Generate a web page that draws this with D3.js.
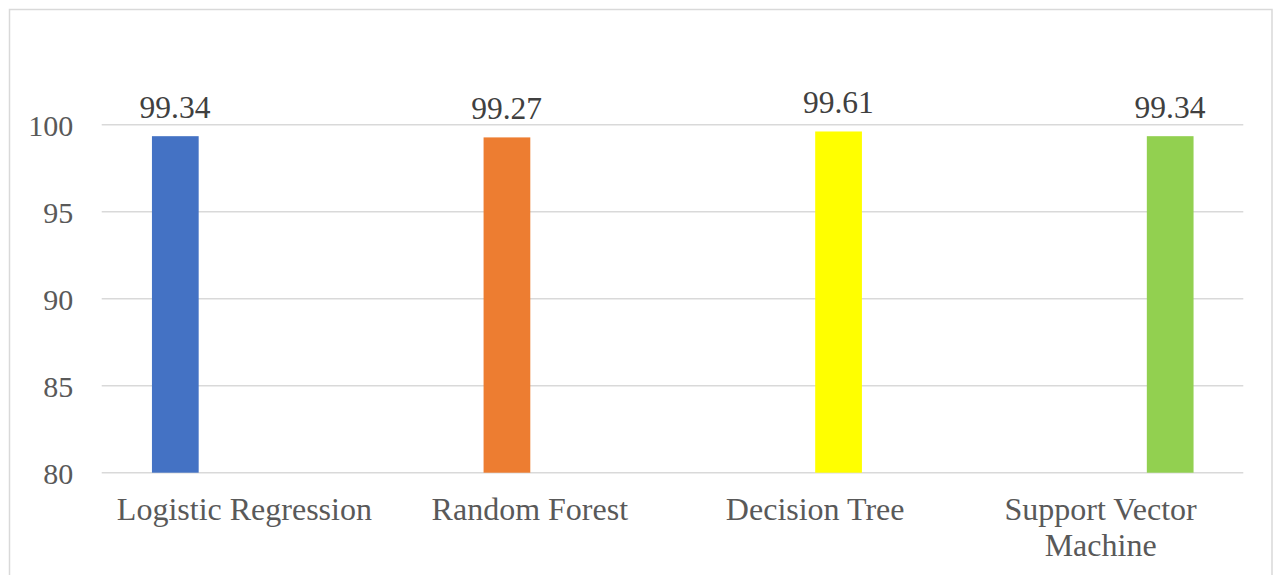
<!DOCTYPE html>
<html>
<head>
<meta charset="utf-8">
<script src="https://cdn.jsdelivr.net/npm/d3@7"></script>
<style>
  html, body { margin: 0; padding: 0; background: #fff; }
  svg { display: block; }
</style>
</head>
<body>
<svg id="chart" width="1274" height="575" font-family="Liberation Serif"></svg>
<script>
// Model accuracy (%)
const categories = ["Logistic Regression", "Random Forest", "Decision Tree", "Support Vector Machine"];
const accuracy = [99.34, 99.27, 99.61, 99.34];
const barColors = ["#4472C4", "#ED7D31", "#FFFF00", "#92D050"];
const yTicks = [80, 85, 90, 95, 100];

const SERIF = "Liberation Serif";
const svg = d3.select("#chart");

// outer frame
svg.append("rect")
  .attr("x", 9.5).attr("y", 9.5)
  .attr("width", 1262.5).attr("height", 580)
  .attr("fill", "#fff")
  .attr("stroke", "#d9d9d9").attr("stroke-width", 1.5);

const plotLeft = 101.7, plotRight = 1243.3, plotTop = 124.7, plotBottom = 472.7;

const y = d3.scaleLinear().domain([80, 100]).range([plotBottom, plotTop]);
const x0 = d3.scaleBand().domain(categories).range([plotLeft, plotRight]).paddingInner(0).paddingOuter(0);
// each model is its own series, so it takes its own slot inside every category
const x1 = d3.scaleBand().domain(d3.range(categories.length))
  .range([0, x0.bandwidth()]).paddingInner(0).paddingOuter(1.087);

// gridlines
svg.append("g").selectAll("line").data(yTicks).join("line")
  .attr("x1", plotLeft).attr("x2", plotRight)
  .attr("y1", d => y(d)).attr("y2", d => y(d))
  .attr("stroke", "#d9d9d9").attr("stroke-width", 1.5);

// y axis labels
const yAxis = d3.axisLeft(y).tickValues(yTicks).tickSize(0).tickPadding(28.5);
const yg = svg.append("g").attr("transform", `translate(${plotLeft},0)`).call(yAxis);
yg.select(".domain").remove();
yg.attr("font-family", SERIF).attr("font-size", 30);
yg.selectAll("text")
  .attr("font-family", SERIF)
  .attr("font-size", 30).attr("fill", "#595959")
  .attr("dy", "0.35em");

// bars
const bars = categories.map((c, i) => ({ c, i, v: accuracy[i], color: barColors[i] }));
svg.append("g").selectAll("rect").data(bars).join("rect")
  .attr("x", d => x0(d.c) + x1(d.i))
  .attr("width", x1.bandwidth() + 0.5)
  .attr("y", d => y(d.v))
  .attr("height", d => y(80) - y(d.v))
  .attr("fill", d => d.color);

// value labels
svg.append("g").attr("font-family", SERIF).selectAll("text").data(bars).join("text")
  .attr("x", d => x0(d.c) + x1(d.i) + x1.bandwidth() / 2)
  .attr("y", d => y(d.v) - 18)
  .attr("text-anchor", "middle")
  .attr("font-family", SERIF)
  .attr("font-size", 31.5).attr("fill", "#404040")
  .text(d => d.v.toFixed(2));

// category labels, wrapped to the band width
const xAxis = d3.axisBottom(x0).tickSize(0).tickPadding(0);
const xg = svg.append("g").attr("transform", `translate(0,${plotBottom})`).call(xAxis);
xg.select(".domain").remove();
xg.attr("font-family", SERIF).attr("font-size", 32);
xg.selectAll("text")
  .attr("font-family", SERIF)
  .attr("font-size", 32).attr("fill", "#595959")
  .attr("y", 47).attr("dy", 0)
  .each(function () {
    const t = d3.select(this);
    const words = t.text().split(/\s+/);
    const maxW = x0.bandwidth() - 10;
    t.text(null);
    let line = [];
    let lineNo = 0;
    let tspan = t.append("tspan").attr("x", 0).attr("y", 47);
    for (const w of words) {
      line.push(w);
      tspan.text(line.join(" "));
      if (tspan.node().getComputedTextLength() > maxW && line.length > 1) {
        line.pop();
        tspan.text(line.join(" "));
        line = [w];
        lineNo++;
        tspan = t.append("tspan").attr("x", 0).attr("y", 47 + lineNo * 36.5).text(w);
      }
    }
  });
</script>
</body>
</html>
